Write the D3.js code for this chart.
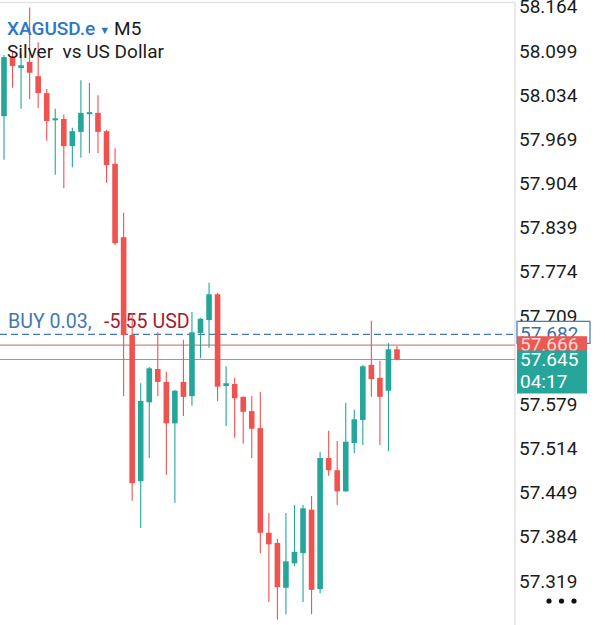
<!DOCTYPE html>
<html>
<head>
<meta charset="utf-8">
<script src="https://cdn.jsdelivr.net/npm/d3@7"></script>
<style>
  body { margin: 0; background: #fff; }
  svg { display: block; font-family: Roboto, "Noto Sans", sans-serif; }
</style>
</head>
<body>
<svg></svg>
<script>
// XAGUSD.e M5 candles
const opens  = [58.003, 58.089, 58.074, 58.083, 58.062, 58.037, 57.997, 57.999, 57.959, 57.980,
                58.006, 58.008, 57.981, 57.933, 57.825, 57.681, 57.466, 57.582, 57.631, 57.612,
                57.551, 57.612, 57.591, 57.684, 57.703, 57.741, 57.606, 57.609, 57.590, 57.569,
                57.544, 57.390, 57.375, 57.309, 57.345, 57.360, 57.424, 57.307, 57.500, 57.482,
                57.451, 57.522, 57.556, 57.637, 57.618, 57.599, 57.660];
const highs  = [58.093, 58.098, 58.093, 58.163, 58.112, 58.043, 58.014, 58.005, 57.986, 58.056,
                58.052, 58.034, 57.983, 57.956, 57.861, 57.713, 57.610, 57.634, 57.685, 57.627,
                57.600, 57.674, 57.715, 57.706, 57.758, 57.743, 57.635, 57.618, 57.591, 57.591,
                57.597, 57.419, 57.381, 57.419, 57.431, 57.431, 57.444, 57.509, 57.540, 57.525,
                57.581, 57.571, 57.637, 57.702, 57.643, 57.669, 57.665];
const lows   = [57.939, 58.045, 58.014, 58.028, 58.015, 57.967, 57.917, 57.897, 57.928, 57.942,
                57.949, 57.949, 57.905, 57.813, 57.591, 57.437, 57.397, 57.500, 57.591, 57.475,
                57.434, 57.562, 57.577, 57.647, 57.662, 57.584, 57.547, 57.530, 57.521, 57.500,
                57.360, 57.288, 57.262, 57.270, 57.341, 57.288, 57.270, 57.301, 57.474, 57.431,
                57.450, 57.507, 57.519, 57.590, 57.519, 57.510, 57.644];
const closes = [58.090, 58.077, 58.078, 58.067, 58.037, 57.996, 58.000, 57.959, 57.981, 58.008,
                58.009, 57.980, 57.931, 57.816, 57.681, 57.463, 57.584, 57.632, 57.612, 57.551,
                57.599, 57.590, 57.685, 57.705, 57.741, 57.605, 57.610, 57.588, 57.568, 57.543,
                57.390, 57.373, 57.310, 57.348, 57.362, 57.426, 57.306, 57.500, 57.482, 57.451,
                57.524, 57.557, 57.635, 57.616, 57.590, 57.660, 57.645];

const priceTicks = [58.164, 58.099, 58.034, 57.969, 57.904, 57.839, 57.774, 57.709,
                    57.644, 57.579, 57.514, 57.449, 57.384, 57.319];

const buyPrice = 57.682, askPrice = 57.666, bidPrice = 57.645;
const buyText = "BUY 0.03,", profitText = "-5.55 USD";
const timeLeft = "04:17";

const candles = opens.map((o, i) => ({ o: o, h: highs[i], l: lows[i], c: closes[i] }));

const w = 605, h = 625;
const plotRight = 515;
const up = "#26a69a", down = "#ef5350";

const svg = d3.select("svg").attr("width", w).attr("height", h);

const x = d3.scaleLinear().domain([0, candles.length - 1]).range([4, 397]);
const y = d3.scaleLinear().domain([58.099, 57.319]).range([51, 581]);
const bodyW = 5.6;

// frame
svg.append("line").attr("x1", 0).attr("x2", plotRight).attr("y1", 2.5).attr("y2", 2.5)
  .attr("stroke", "#e3e3e3").attr("stroke-width", 1.5);
svg.append("line").attr("x1", plotRight).attr("x2", plotRight).attr("y1", 2).attr("y2", h)
  .attr("stroke", "#e3e3e3").attr("stroke-width", 1.5);

// price axis
const yAxis = d3.axisRight(y).tickValues(priceTicks).tickSize(0).tickPadding(4)
  .tickFormat(d3.format(".3f"));
const ax = svg.append("g").attr("transform", `translate(${plotRight},0)`).call(yAxis);
ax.select(".domain").remove();
ax.selectAll("text").attr("font-size", 19).attr("fill", "#1b1b1b")
  .attr("font-family", "Roboto, sans-serif");

// level lines
svg.append("line").attr("x1", 0).attr("x2", 590).attr("y1", y(buyPrice)).attr("y2", y(buyPrice))
  .attr("stroke", "#4877b0").attr("stroke-width", 1.4).attr("stroke-dasharray", "7,4");
svg.append("line").attr("x1", 0).attr("x2", plotRight).attr("y1", y(askPrice)).attr("y2", y(askPrice))
  .attr("stroke", "#c98a82").attr("stroke-width", 1.2);
svg.append("line").attr("x1", 0).attr("x2", plotRight).attr("y1", y(bidPrice)).attr("y2", y(bidPrice))
  .attr("stroke", "#5fb3a9").attr("stroke-width", 1.2);

// order label
const lbl = svg.append("text").attr("x", 8).attr("y", y(buyPrice) - 6).attr("font-size", 19.6);
lbl.append("tspan").attr("fill", "#3f79b4").text(buyText);
lbl.append("tspan").attr("fill", "#a51c2c").attr("x", 104).text(profitText);

// candles
const g = svg.append("g");
const cg = g.selectAll("g.candle").data(candles).enter().append("g").attr("class", "candle");
cg.append("line")
  .attr("x1", (d, i) => x(i)).attr("x2", (d, i) => x(i))
  .attr("y1", d => y(d.h)).attr("y2", d => y(d.l))
  .attr("stroke", d => d.c >= d.o ? up : down).attr("stroke-width", 1.1);
cg.append("rect")
  .attr("x", (d, i) => x(i) - bodyW / 2).attr("width", bodyW)
  .attr("y", d => y(Math.max(d.o, d.c)))
  .attr("height", d => Math.max(2, Math.abs(y(d.o) - y(d.c))))
  .attr("fill", d => d.c >= d.o ? up : down);

// price tags
const tagX = 517;
svg.append("rect").attr("x", tagX).attr("y", y(buyPrice) - 13).attr("width", 73).attr("height", 22)
  .attr("fill", "#fff").attr("stroke", "#4d7fb6").attr("stroke-width", 1.3);
svg.append("text").attr("x", tagX + 3).attr("y", y(buyPrice) + 6).attr("font-size", 19)
  .attr("fill", "#3a6fb0").text(buyPrice.toFixed(3));
svg.append("rect").attr("x", tagX).attr("y", y(askPrice) - 9).attr("width", 70).attr("height", 16)
  .attr("fill", "#ea5a55");
svg.append("text").attr("x", tagX + 3).attr("y", y(askPrice) + 6).attr("font-size", 19)
  .attr("fill", "#fbd6d3").text(askPrice.toFixed(3));
svg.append("rect").attr("x", tagX).attr("y", y(bidPrice) - 9).attr("width", 70).attr("height", 43)
  .attr("fill", up);
svg.append("text").attr("x", tagX + 3).attr("y", y(bidPrice) + 7).attr("font-size", 19)
  .attr("fill", "#fff").text(bidPrice.toFixed(3));
svg.append("text").attr("x", tagX + 3).attr("y", y(bidPrice) + 29).attr("font-size", 19)
  .attr("fill", "#fff").text(timeLeft);

// title
const t1 = svg.append("text").attr("x", 7).attr("y", 35).attr("font-size", 19);
t1.append("tspan").attr("fill", "#2a78c8").attr("font-weight", 500).text("XAGUSD.e");
t1.append("tspan").attr("fill", "#2a78c8").attr("font-size", 11).attr("dx", 4).attr("dy", -1).text("\u25bc");
t1.append("tspan").attr("fill", "#1b1b1b").attr("dx", 4).attr("dy", 1).text("M5");
svg.append("text").attr("x", 7).attr("y", 58).attr("font-size", 19).attr("fill", "#1b1b1b")
  .text("Silver\u00a0\u00a0vs US Dollar");

// menu dots
svg.selectAll("circle.dot").data([0, 1, 2]).enter().append("circle")
  .attr("cx", d => 549 + d * 12.5).attr("cy", 601).attr("r", 2.6).attr("fill", "#111");
</script>
</body>
</html>
